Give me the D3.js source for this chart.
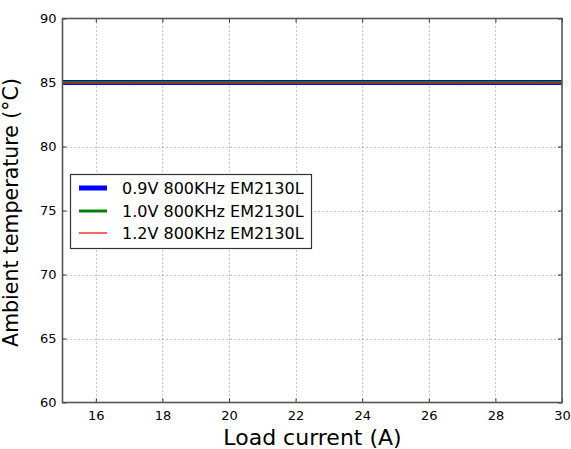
<!DOCTYPE html>
<html><head><meta charset="utf-8">
<script src="https://cdn.jsdelivr.net/npm/d3@7"></script>
<style>body{margin:0;background:#fff}svg{display:block;font-family:"DejaVu Sans",sans-serif}</style>
</head><body><svg id="c" width="571" height="449"></svg>
<script>
const loads = [15,16,17,18,19,20,21,22,23,24,25,26,27,28,29,30];
const temp09 = [85,85,85,85,85,85,85,85,85,85,85,85,85,85,85,85];
const temp10 = [85,85,85,85,85,85,85,85,85,85,85,85,85,85,85,85];
const temp12 = [85,85,85,85,85,85,85,85,85,85,85,85,85,85,85,85];
const seriesNames = ["0.9V 800KHz EM2130L","1.0V 800KHz EM2130L","1.2V 800KHz EM2130L"];
const xTicks = [16,18,20,22,24,26,28,30];
const yTicks = [60,65,70,75,80,85,90];

const svg = d3.select("#c");
const L=62.5, R=562, T=18.5, B=402.5;
const x = d3.scaleLinear().domain([15,30]).range([L,R]);
const y = d3.scaleLinear().domain([60,90]).range([B,T]);

// grid
const g = svg.append("g");
g.selectAll(".gx").data(xTicks.filter(v=>v<30)).enter().append("line")
 .attr("x1",d=>Math.round(x(d))+0.5).attr("x2",d=>Math.round(x(d))+0.5).attr("y1",T).attr("y2",B)
 .attr("stroke","#000").attr("stroke-width",0.7).attr("stroke-dasharray","1,3").attr("opacity",0.6);
g.selectAll(".gy").data(yTicks.filter(v=>v>60&&v<90)).enter().append("line")
 .attr("x1",L).attr("x2",R).attr("y1",d=>Math.round(y(d))+0.5).attr("y2",d=>Math.round(y(d))+0.5)
 .attr("stroke","#000").attr("stroke-width",0.7).attr("stroke-dasharray","1,3").attr("opacity",0.6);

// axes (ticks inward)
const xa = svg.append("g").attr("transform",`translate(0,${B})`)
 .call(d3.axisBottom(x).tickValues(xTicks).tickSizeInner(-4).tickSizeOuter(0).tickPadding(8));
const ya = svg.append("g").attr("transform",`translate(${L},0)`)
 .call(d3.axisLeft(y).tickValues(yTicks).tickSizeInner(-4).tickSizeOuter(0).tickPadding(6));
const xt = svg.append("g").attr("transform",`translate(0,${T})`)
 .call(d3.axisTop(x).tickValues(xTicks).tickSizeInner(-4).tickSizeOuter(0).tickFormat(""));
const yr = svg.append("g").attr("transform",`translate(${R},0)`)
 .call(d3.axisRight(y).tickValues(yTicks).tickSizeInner(-4).tickSizeOuter(0).tickFormat(""));
[xa,ya,xt,yr].forEach(a=>{
  a.select(".domain").remove();
  a.selectAll(".tick line").attr("stroke","#000").attr("stroke-width",0.8);
  a.selectAll(".tick text").attr("font-size",13).attr("fill","#000").attr("font-family","DejaVu Sans");
});

// lines
const series = [
 {v:temp09,c:"#0000ff",w:5},
 {v:temp10,c:"#008000",w:3},
 {v:temp12,c:"#ff0000",w:1}
];
const line = d3.line().x((d,i)=>x(loads[i])).y(d=>y(d));
series.forEach(s=>{
  svg.append("path").datum(s.v).attr("d",line).attr("fill","none")
   .attr("stroke",s.c).attr("stroke-width",s.w);
});

// frame
svg.append("rect").attr("x",L).attr("y",T).attr("width",R-L).attr("height",B-T)
 .attr("fill","none").attr("stroke","#555").attr("stroke-width",1.6);

// legend
const lg = svg.append("g");
lg.append("rect").attr("x",70.5).attr("y",174.5).attr("width",241).attr("height",74)
 .attr("fill","#fff").attr("stroke","#333").attr("stroke-width",1.2);
seriesNames.forEach((n,i)=>{
  const yy = 188 + Math.round(i*22.5);
  lg.append("line").attr("x1",79).attr("x2",107).attr("y1",yy).attr("y2",yy)
   .attr("stroke",series[i].c).attr("stroke-width",Math.max(series[i].w,1.2));
  lg.append("text").attr("x",122).attr("y",yy+5.5).attr("font-size",16).attr("fill","#000").text(n);
});

// axis labels
svg.append("text").attr("x",312.5).attr("y",445).attr("text-anchor","middle")
 .attr("font-size",22).attr("fill","#000").text("Load current (A)");
svg.append("text").attr("transform","translate(18,212.5) rotate(-90)").attr("text-anchor","middle")
 .attr("font-size",20.5).attr("fill","#000").text("Ambient temperature (°C)");
</script></body></html>
